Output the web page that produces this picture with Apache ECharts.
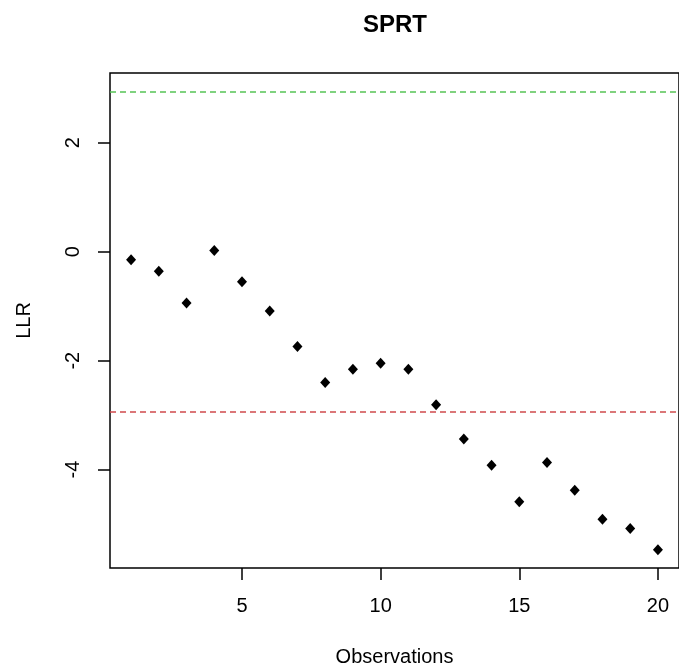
<!DOCTYPE html>
<html>
<head>
<meta charset="utf-8">
<script src="https://cdn.jsdelivr.net/npm/echarts@6/dist/echarts.min.js"></script>
<style>
  html, body { margin: 0; padding: 0; background: #fff; }
  #chart_box { width: 679px; height: 672px; }
</style>
</head>
<body>
<div id="chart_box"></div>
<script>
// data
var observations = [1, 2, 3, 4, 5, 6, 7, 8, 9, 10, 11, 12, 13, 14, 15, 16, 17, 18, 19, 20];
var llr = [-0.15, -0.36, -0.94, 0.02, -0.55, -1.09, -1.74, -2.40, -2.16, -2.05,
           -2.16, -2.81, -3.44, -3.92, -4.59, -3.87, -4.38, -4.91, -5.08, -5.47];
var upperBound = 2.944;
var lowerBound = -2.944;
var xTicks = [5, 10, 15, 20];
var yTicks = [-4, -2, 0, 2];

// R style axis range, 4% padding
var xMin = 1 - 0.04 * 19, xMax = 20 + 0.04 * 19;
var yPad = 0.04 * (upperBound - llr[19]);
var yMin = llr[19] - yPad, yMax = upperBound + yPad;

var font = 'Liberation Sans, Arial, sans-serif';

var points = [];
for (var i = 0; i < observations.length; i++) {
    points.push([observations[i], llr[i]]);
}

var sprt_option = {
    animation: false,
    backgroundColor: '#fff',
    title: {
        text: 'SPRT',
        left: 395,
        top: 13,
        padding: 0,
        textAlign: 'center',
        textStyle: { fontFamily: font, fontSize: 24, fontWeight: 'bold', color: '#000' }
    },
    grid: {
        left: 110, top: 73, right: -2, bottom: 104,
        show: true, borderColor: '#000', borderWidth: 1.5
    },
    xAxis: {
        type: 'value',
        min: xMin, max: xMax,
        name: 'Observations',
        nameLocation: 'middle',
        nameGap: 79,
        nameTextStyle: { fontFamily: font, fontSize: 20, color: '#000' },
        axisLine: { show: false, onZero: false },
        splitLine: { show: false },
        axisTick: { show: true, customValues: xTicks, length: 12, lineStyle: { color: '#000', width: 1.5 } },
        axisLabel: { customValues: xTicks, margin: 28, fontFamily: font, fontSize: 20, color: '#000' }
    },
    yAxis: {
        type: 'value',
        min: yMin, max: yMax,
        name: 'LLR',
        nameLocation: 'middle',
        nameGap: 76,
        nameTextStyle: { fontFamily: font, fontSize: 20, color: '#000' },
        axisLine: { show: false, onZero: false },
        splitLine: { show: false },
        axisTick: { show: true, customValues: yTicks, length: 12, lineStyle: { color: '#000', width: 1.5 } },
        axisLabel: { customValues: yTicks, rotate: 90, margin: 27, fontFamily: font, fontSize: 20, color: '#000' }
    },
    series: [{
        type: 'scatter',
        data: points,
        symbol: 'diamond',
        symbolSize: [10, 11],
        itemStyle: { color: '#000', opacity: 1 },
        markLine: {
            silent: true,
            symbol: 'none',
            label: { show: false },
            data: [
                { yAxis: upperBound, lineStyle: { color: '#55c455', type: [6, 4], width: 1.5 } },
                { yAxis: lowerBound, lineStyle: { color: '#d04a4c', type: [6, 4], width: 1.5 } }
            ]
        }
    }]
};

var myChart = echarts.init(document.getElementById('chart_box'));
myChart.setOption(sprt_option);
</script>
</body>
</html>
